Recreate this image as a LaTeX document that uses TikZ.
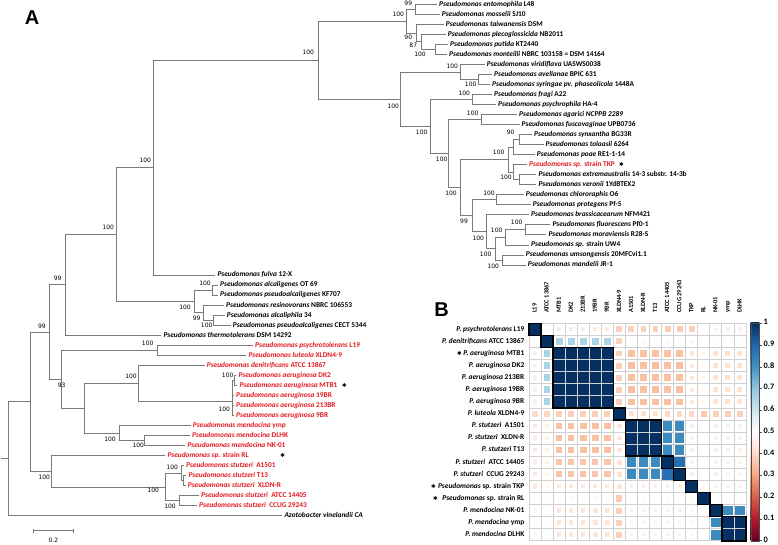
\documentclass[tikz,border=0pt]{standalone}
\usepackage{fontspec}
\setmainfont{Carlito}
\newfontfamily\dejavu{DejaVu Sans}
\newfontfamily\lsans{Liberation Sans}
\definecolor{treegray}{RGB}{122,122,122}
\definecolor{lred}{RGB}{228,26,32}
\definecolor{gridc}{RGB}{208,208,208}
\definecolor{rb0}{HTML}{67001F}
\definecolor{rb1}{HTML}{B2182B}
\definecolor{rb2}{HTML}{D6604D}
\definecolor{rb3}{HTML}{F4A582}
\definecolor{rb4}{HTML}{FDDBC7}
\definecolor{rb5}{HTML}{FFFFFF}
\definecolor{rb6}{HTML}{D1E5F0}
\definecolor{rb7}{HTML}{92C5DE}
\definecolor{rb8}{HTML}{4393C3}
\definecolor{rb9}{HTML}{2166AC}
\definecolor{rb10}{HTML}{053061}
\definecolor{rb11}{HTML}{053061}
\newcommand{\hmcell}[3]{%
  \pgfmathsetmacro{\hmS}{10*#3}%
  \pgfmathtruncatemacro{\hmI}{floor(\hmS+0.0001)}%
  \pgfmathtruncatemacro{\hmJ}{\hmI+1}%
  \pgfmathtruncatemacro{\hmF}{round(100*(\hmS-\hmI))}%
  \pgfmathsetmacro{\hmSide}{12.05*sqrt(abs(2*#3-1))}%
  \colorlet{hmc}{rb\hmJ!\hmF!rb\hmI}%
  \fill[hmc] ({529+(#2-0.5)*12.05-\hmSide/2},{323.3+(#1-0.5)*12.08-\hmSide/2}) rectangle ++(\hmSide,\hmSide);%
}
\newcommand{\tedge}[2]{\foreach \ch in {#2}{\draw[br] (#1) |- (\ch);}}
\begin{document}
\begin{tikzpicture}[x=1pt,y=-1pt,
  br/.style={draw=treegray, line width=1pt},
  lf/.style={anchor=west, inner xsep=2pt, inner ysep=0pt, text height=5.2pt, text depth=1.6pt, font=\fontsize{7.35}{8}\selectfont\bfseries},
  lfr/.style={lf, text=lred},
  bs/.style={inner sep=0pt, font=\dejavu\fontsize{6}{6}\selectfont},
  starn/.style={inner sep=0pt, font=\dejavu\fontsize{5.5}{6}\selectfont},
  hlab/.style={anchor=east, inner xsep=1.5pt, inner ysep=0pt, text height=5.2pt, text depth=1.6pt, font=\fontsize{7.4}{8}\selectfont\bfseries},
  clab/.style={anchor=west, rotate=90, inner xsep=0.5pt, inner ysep=0pt, text height=4.6pt, text depth=1.3pt, font=\fontsize{6.4}{7}\selectfont\bfseries},
  cbl/.style={anchor=west, inner sep=0pt, font=\fontsize{8.3}{9}\selectfont\bfseries},
  panel/.style={inner sep=0pt, font=\lsans\bfseries\fontsize{20}{20}\selectfont},
  blk/.style={draw=black, line width=1.5pt},
  gl/.style={draw=gridc, line width=0.7pt}]
\useasboundingbox (0,0) rectangle (778,544);
\fill[white] (0,0) rectangle (778,544);

\node[panel] (pA) at (32,18) {A};
\node[panel] (pB) at (441.5,310) {B};

% ---------- leaves ----------
\node[lf] (L1) at (437,4.30) {\textit{Pseudomonas entomophila} L48};
\node[lf] (L2) at (439.7,14.33) {\textit{Pseudomonas mosselii} SJ10};
\node[lf] (L3) at (443.7,24.36) {\textit{Pseudomonas taiwanensis} DSM};
\node[lf] (L4) at (445.7,34.39) {\textit{Pseudomonas plecoglossicida} NB2011};
\node[lf] (L5) at (448,44.42) {\textit{Pseudomonas putida} KT2440};
\node[lf] (L6) at (447,54.45) {\textit{Pseudomonas monteilii} NBRC 103158 = DSM 14164};
\node[lf] (L7) at (484.7,64.48) {\textit{Pseudomonas viridiflava} UASWS0038};
\node[lf] (L8) at (492,74.51) {\textit{Pseudomonas avellanae} BPIC 631};
\node[lf] (L9) at (490,84.54) {\textit{Pseudomonas syringae pv. phaseolicola} 1448A};
\node[lf] (L10) at (492,94.57) {\textit{Pseudomonas fragi} A22};
\node[lf] (L11) at (496,104.60) {\textit{Pseudomonas psychrophila} HA-4};
\node[lf] (L12) at (517,114.63) {\textit{Pseudomonas agarici NCPPB 2289}};
\node[lf] (L13) at (519.5,124.66) {\textit{Pseudomonas fuscovaginae} UPB0736};
\node[lf] (L14) at (532,134.69) {\textit{Pseudomonas synxantha} BG33R};
\node[lf] (L15) at (543.5,144.72) {\textit{Pseudomonas tolaasii} 6264};
\node[lf] (L16) at (534.7,154.75) {\textit{Pseudomonas poae} RE1-1-14};
\node[lfr] (L17) at (527,164.78) {\textit{Pseudomonas sp.} strain TKP};
\node[lf] (L18) at (536.3,174.81) {\textit{Pseudomonas extremaustralis} 14-3 substr. 14-3b};
\node[lf] (L19) at (536.3,184.84) {\textit{Pseudomonas veronii} 1YdBTEX2};
\node[lf] (L20) at (523.7,194.87) {\textit{Pseudomonas chlororaphis} O6};
\node[lf] (L21) at (530.7,204.90) {\textit{Pseudomonas protegens} Pf-5};
\node[lf] (L22) at (529,214.93) {\textit{Pseudomonas brassicacearum} NFM421};
\node[lf] (L23) at (550.3,224.96) {\textit{Pseudomonas fluorescens} Pf0-1};
\node[lf] (L24) at (546.3,234.99) {\textit{Pseudomonas moraviensis} R28-S};
\node[lf] (L25) at (529,245.02) {\textit{Pseudomonas sp.} strain UW4};
\node[lf] (L26) at (523.7,255.05) {\textit{Pseudomonas umsongensis} 20MFCvi1.1};
\node[lf] (L27) at (525.7,265.08) {\textit{Pseudomonas mandelii} JR-1};
\node[lf] (L28) at (215.3,275.11) {\textit{Pseudomonas fulva} 12-X};
\node[lf] (L29) at (218,285.14) {\textit{Pseudomonas alcaligenes} OT 69};
\node[lf] (L30) at (218,295.17) {\textit{Pseudomonas pseudoalcaligenes} KF707};
\node[lf] (L31) at (224,305.20) {\textit{Pseudomonas resinovorans} NBRC 106553};
\node[lf] (L32) at (224.7,315.23) {\textit{Pseudomonas alcaliphila} 34};
\node[lf] (L33) at (230.7,325.26) {\textit{Pseudomonas pseudoalcaligenes} CECT 5344};
\node[lf] (L34) at (161.3,335.29) {\textit{Pseudomonas thermotolerans} DSM 14292};
\node[lfr] (L35) at (253,345.32) {\textit{Pseudomonas psychrotolerans} L19};
\node[lfr] (L36) at (246.3,355.35) {\textit{Pseudomonas luteola} XLDN4-9};
\node[lfr] (L37) at (204.7,365.38) {\textit{Pseudomonas denitrificans} ATCC 13867};
\node[lfr] (L38) at (236.3,375.41) {\textit{Pseudomonas aeruginosa} DK2};
\node[lfr] (L39) at (237.3,385.44) {\textit{Pseudomonas aeruginosa} MTB1};
\node[lfr] (L40) at (234,395.47) {\textit{Pseudomonas aeruginosa} 19BR};
\node[lfr] (L41) at (234,405.50) {\textit{Pseudomonas aeruginosa} 213BR};
\node[lfr] (L42) at (234,415.53) {\textit{Pseudomonas aeruginosa} 9BR};
\node[lfr] (L43) at (190.7,425.56) {\textit{Pseudomonas mendocina} ymp};
\node[lfr] (L44) at (190,435.59) {\textit{Pseudomonas mendocina} DLHK};
\node[lfr] (L45) at (185.3,445.62) {\textit{Pseudomonas mendocina} NK-01};
\node[lfr] (L46) at (165.3,455.65) {\textit{Pseudomonas sp.} strain RL};
\node[lfr] (L47) at (184,465.68) {\textit{Pseudomonas stutzeri}\ \ A1501};
\node[lfr] (L48) at (186.3,475.71) {\textit{Pseudomonas stutzeri} T13};
\node[lfr] (L49) at (185.7,485.74) {\textit{Pseudomonas stutzeri}\ \ XLDN-R};
\node[lfr] (L50) at (199,495.77) {\textit{Pseudomonas stutzeri}\ \ ATCC 14405};
\node[lfr] (L51) at (197,505.80) {\textit{Pseudomonas stutzeri}\ \ CCUG 29243};
\node[lf] (L52) at (282.3,515.83) {\textit{Azotobacter vinelandii CA}};

\node[starn] (s1) at (621.5,164.3) {✱};
\node[starn] (s2) at (344.5,385.0) {✱};
\node[starn] (s3) at (282.7,455.2) {✱};

% ---------- internal nodes ----------
\coordinate (nRootS) at (1,458.78);
\coordinate (nRoot) at (8.3,458.78);
\coordinate (n30) at (30.7,401.73);
\coordinate (n49) at (49.3,332.13);
\coordinate (n65) at (65.7,284.93);
\coordinate (n116) at (116.3,234.57);
\coordinate (n153) at (153.3,167.70);
\coordinate (nT) at (318.3,60.28);
\coordinate (nP) at (406,21.23);
\coordinate (n99p) at (415,9.32);
\coordinate (n90) at (416,33.14);
\coordinate (n87) at (421.7,41.91);
\coordinate (nPM) at (435,49.44);
\coordinate (nF) at (400.5,99.33);
\coordinate (nS) at (460.7,72.00);
\coordinate (nAS) at (478.3,79.53);
\coordinate (nR) at (430,126.66);
\coordinate (nFr) at (472.3,99.59);
\coordinate (nFl) at (448.3,153.74);
\coordinate (nA) at (481,119.65);
\coordinate (nBCD) at (460,187.82);
\coordinate (nBC) at (508.3,159.77);
\coordinate (nB) at (513.3,147.23);
\coordinate (nST) at (519,139.71);
\coordinate (nC) at (513.3,172.30);
\coordinate (nEV) at (519,179.83);
\coordinate (nD) at (472,215.87);
\coordinate (nCP) at (496.7,199.89);
\coordinate (nE) at (486,231.86);
\coordinate (nG) at (495,248.78);
\coordinate (nH) at (505,237.50);
\coordinate (nFM) at (525.7,229.98);
\coordinate (nI) at (502.7,260.07);
\coordinate (nAlc) at (194.3,301.44);
\coordinate (nAlcA) at (212.3,290.16);
\coordinate (nAlcB) at (203.3,312.72);
\coordinate (nAlcC) at (213.3,320.25);
\coordinate (nQ) at (61.7,379.33);
\coordinate (nPL) at (157.3,350.34);
\coordinate (nM) at (84.3,408.31);
\coordinate (nDA) at (138.3,383.54);
\coordinate (nAer) at (232.3,401.7);
\coordinate (nDM) at (234.5,380.43);
\coordinate (nMen) at (119.3,433.09);
\coordinate (nDN) at (144.3,440.61);
\coordinate (nSR) at (51.7,471.32);
\coordinate (nSt) at (165,487.00);
\coordinate (nStA) at (181.7,473.20);
\coordinate (nTX) at (183.3,480.73);
\coordinate (nStB) at (179.3,500.79);

% ---------- branches ----------
\draw[br] (nRootS) -- (nRoot);
\tedge{nRoot}{n30,L52}
\tedge{n30}{n49,nSR}
\tedge{n49}{n65,nQ}
\tedge{n65}{n116,L34}
\tedge{n116}{n153,nAlc}
\tedge{n153}{nT,L28}
\tedge{nT}{nP,nF}
\tedge{nP}{n99p,n90}
\tedge{n99p}{L1,L2}
\tedge{n90}{L3,n87}
\tedge{n87}{L4,nPM}
\tedge{nPM}{L5,L6}
\tedge{nF}{nS,nR}
\tedge{nS}{L7,nAS}
\tedge{nAS}{L8,L9}
\tedge{nR}{nFr,nFl}
\tedge{nFr}{L10,L11}
\tedge{nFl}{nA,nBCD}
\tedge{nA}{L12,L13}
\tedge{nBCD}{nBC,nD}
\tedge{nBC}{nB,nC}
\tedge{nB}{nST,L16}
\tedge{nST}{L14,L15}
\tedge{nC}{L17,nEV}
\tedge{nEV}{L18,L19}
\tedge{nD}{nCP,nE}
\tedge{nCP}{L20,L21}
\tedge{nE}{L22,nG}
\tedge{nG}{nH,nI}
\tedge{nH}{nFM,L25}
\tedge{nFM}{L23,L24}
\tedge{nI}{L26,L27}
\tedge{nAlc}{nAlcA,nAlcB}
\tedge{nAlcA}{L29,L30}
\tedge{nAlcB}{L31,nAlcC}
\tedge{nAlcC}{L32,L33}
\tedge{nQ}{nPL,nM}
\tedge{nPL}{L35,L36}
\tedge{nM}{nDA,nMen}
\tedge{nDA}{L37,nAer}
\tedge{nAer}{nDM,L40,L41,L42}
\tedge{nDM}{L38,L39}
\tedge{nMen}{L43,nDN}
\tedge{nDN}{L44,L45}
\tedge{nSR}{L46,nSt}
\tedge{nSt}{nStA,nStB}
\tedge{nStA}{L47,nTX}
\tedge{nTX}{L48,L49}
\tedge{nStB}{L50,L51}

% ---------- bootstrap values ----------
\foreach \t/\x/\y [count=\i] in {100/398.3/14.3, 99/408.3/3.8, 90/408.3/37.7, 87/413.3/45.7, 100/420/54.3,
  100/393.3/106, 100/452.3/66.7, 100/470.7/84.3, 100/464.3/93.3, 100/421.7/132.7, 100/441.7/159,
  100/472.7/113.3, 90/510.7/132.7, 100/498.7/152.7, 100/506/177.7, 100/451/193.3, 100/489/193.7,
  99/464/221, 100/478.3/238.3, 100/516.7/222.7, 100/496.7/230.7, 100/485.7/254, 100/493.3/266.7,
  100/308.3/52.3, 100/145.3/160, 100/108.3/227.7, 99/57.7/278.3, 99/42/326, 100/205/283.3,
  100/185/307.7, 99/196.7/318.3, 100/206.7/325, 100/147.7/343.3, 93/61.7/385, 100/131/376.7,
  100/227.7/375.7, 100/224.3/409, 100/110/439, 100/138.3/445.7, 100/44.3/477.3, 100/172.3/467.3,
  100/153.3/490.7, 100/170/506}
  \node[bs] (bt\i) at (\x,\y) {\t};

% ---------- scale bar ----------
\coordinate (sb1) at (33.3,530.7);
\coordinate (sb2) at (73.3,530.7);
\draw[br] (sb1) -- (sb2);
\draw[br] ([yshift=-2.2pt]sb1) -- ([yshift=2.2pt]sb1);
\draw[br] ([yshift=-2.2pt]sb2) -- ([yshift=2.2pt]sb2);
\node[bs] (sbl) at (53.3,540.3) {0.2};

% ---------- heatmap ----------
\foreach \row [count=\r] in {
 {1,0.48,0.44,0.44,0.44,0.44,0.44,0.38,0.38,0.38,0.38,0.37,0.37,0.38,0.48,0.46,0.45,0.45},
 {0.48,1,0.66,0.66,0.66,0.66,0.66,0.38,0.47,0.47,0.47,0.47,0.47,0.46,0.48,0.48,0.48,0.48},
 {0.45,0.66,1,1,1,1,1,0.38,0.35,0.35,0.35,0.35,0.35,0.44,0.47,0.42,0.42,0.42},
 {0.45,0.66,1,1,1,1,1,0.38,0.35,0.35,0.35,0.35,0.35,0.44,0.47,0.42,0.42,0.42},
 {0.45,0.66,1,1,1,1,1,0.38,0.35,0.35,0.35,0.35,0.35,0.44,0.47,0.42,0.42,0.42},
 {0.45,0.66,1,1,1,1,1,0.38,0.35,0.35,0.35,0.35,0.35,0.44,0.47,0.42,0.42,0.42},
 {0.45,0.66,1,1,1,1,1,0.38,0.35,0.35,0.35,0.35,0.35,0.44,0.47,0.42,0.42,0.42},
 {0.40,0.39,0.38,0.38,0.38,0.38,0.38,1,0.42,0.42,0.42,0.40,0.40,0.40,0.37,0.38,0.38,0.38},
 {0.44,0.46,0.35,0.35,0.35,0.35,0.35,0.43,1,1,1,0.82,0.82,0.45,0.48,0.45,0.46,0.46},
 {0.44,0.46,0.35,0.35,0.35,0.35,0.35,0.43,1,1,1,0.82,0.82,0.45,0.48,0.45,0.46,0.46},
 {0.44,0.46,0.35,0.35,0.35,0.35,0.35,0.43,1,1,1,0.82,0.82,0.45,0.48,0.45,0.46,0.46},
 {0.44,0.46,0.36,0.36,0.36,0.36,0.36,0.42,0.82,0.82,0.82,1,0.88,0.45,0.48,0.45,0.46,0.46},
 {0.44,0.46,0.36,0.36,0.36,0.36,0.36,0.42,0.82,0.82,0.82,0.88,1,0.45,0.48,0.45,0.46,0.46},
 {0.43,0.47,0.44,0.44,0.44,0.44,0.44,0.43,0.45,0.45,0.45,0.45,0.45,1,0.48,0.46,0.46,0.46},
 {0.48,0.48,0.47,0.47,0.47,0.47,0.47,0.37,0.48,0.48,0.48,0.48,0.48,0.48,1,0.48,0.49,0.49},
 {0.47,0.48,0.43,0.43,0.43,0.43,0.43,0.38,0.45,0.45,0.45,0.45,0.45,0.47,0.48,1,0.82,0.82},
 {0.47,0.48,0.43,0.43,0.43,0.43,0.43,0.38,0.46,0.46,0.46,0.46,0.46,0.47,0.49,0.82,1,1},
 {0.47,0.48,0.43,0.43,0.43,0.43,0.43,0.38,0.46,0.46,0.46,0.46,0.46,0.47,0.49,0.82,1,1}}
 {\foreach \v [count=\c] in \row {\hmcell{\r}{\c}{\v}}}

\foreach \i in {0,...,18} {
  \draw[gl] ({529+\i*12.05},323.3) -- ({529+\i*12.05},540.74);
  \draw[gl] (529,{323.3+\i*12.08}) -- (745.9,{323.3+\i*12.08});
}
\foreach \a/\b in {1/1,2/2,3/7,8/8,9/11,12/12,13/13,14/14,15/15,16/16,17/18}
  \draw[blk] ({529+(\a-1)*12.05},{323.3+(\a-1)*12.08}) rectangle ({529+\b*12.05},{323.3+\b*12.08});

\foreach \t [count=\c] in {L19,ATCC 13867,MTB1,DK2,213BR,19BR,9BR,XLDN4-9,A1501,XLDN-R,T13,ATCC 14405,CCUG 29243,TKP,RL,NK-01,ymp,DLHK}
  \node[clab] (cl\c) at ({529+(\c-0.5)*12.05},313.5) {\t};

\foreach \t [count=\r] in {
 {\textit{P. psychrotolerans} L19},
 {\textit{P. denitrificans} ATCC 13867},
 {{\dejavu\fontsize{5.5}{6}\selectfont ✱} \textit{P. aeruginosa} MTB1},
 {\textit{P. aeruginosa} DK2},
 {\textit{P. aeruginosa} 213BR},
 {\textit{P. aeruginosa} 19BR},
 {\textit{P. aeruginosa} 9BR},
 {\textit{P. luteola} XLDN4-9},
 {\textit{P. stutzeri}\ \ A1501},
 {\textit{P. stutzeri}\ \ XLDN-R},
 {\textit{P. stutzeri} T13},
 {\textit{P. stutzeri}\ \ ATCC 14405},
 {\textit{P. stutzeri}\ \ CCUG 29243},
 {\textit{Pseudomonas} sp. strain TKP},
 {\textit{Pseudomonas} sp. strain RL},
 {\textit{P. mendocina} NK-01},
 {\textit{P. mendocina} ymp},
 {\textit{P. mendocina} DLHK}}
  \node[hlab] (rl\r) at (526,{323.3+(\r-0.5)*12.08}) {\t};
\node[starn] (s4) at (433.5,486.1) {✱};
\node[starn] (s5) at (435.5,498.2) {✱};

% ---------- colour bar ----------
\foreach \k in {0,...,9} {
  \pgfmathtruncatemacro{\kk}{\k+1}
  \shade[bottom color=rb\k, top color=rb\kk] (750.7,{540.7-(\k+1)*21.74-0.4}) rectangle (759.3,{540.7-\k*21.74});
}
\draw[black!70, line width=0.4pt] (750.7,323.3) rectangle (759.3,540.7);
\foreach \t [count=\k from 0] in {0,0.1,0.2,0.3,0.4,0.5,0.6,0.7,0.8,0.9,1} {
  \draw[black!70, line width=0.5pt] (759.3,{540.7-\k*21.74}) -- (761.8,{540.7-\k*21.74});
  \node[cbl] (cb\k) at (763.5,{539.4-\k*21.74}) {\t};
}
\end{tikzpicture}
\end{document}
